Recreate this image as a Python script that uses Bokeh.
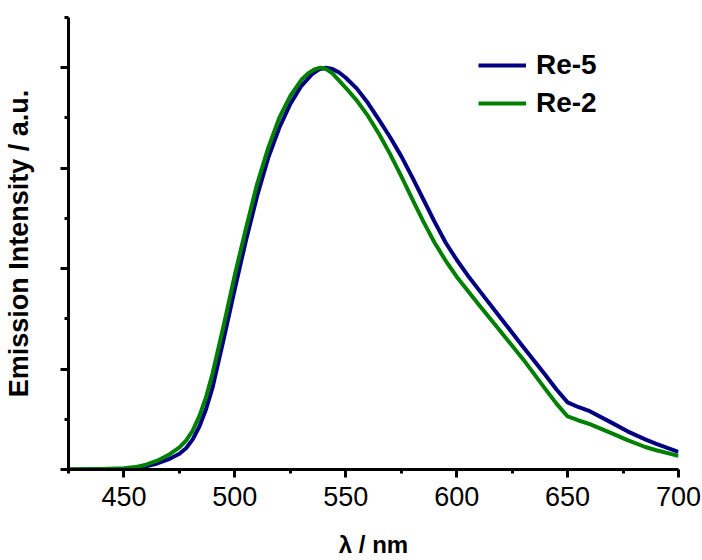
from bokeh.plotting import figure
from bokeh.models import Range1d, FixedTicker, Legend, LegendItem
from bokeh.embed import file_html
from bokeh.resources import INLINE

# ---- data ----
wl_re5 = [425, 440, 450, 455, 460, 465, 470, 475, 478, 481, 484, 487, 490, 495, 500, 505,
          510, 515, 520, 525, 530, 535, 538, 541, 544, 547, 550, 555, 560, 565, 570, 575,
          580, 585, 590, 595, 600, 605, 610, 620, 630, 640, 645, 650, 655, 660, 670, 677,
          685, 690, 700]
int_re5 = [0.0, 0.0008, 0.002, 0.004, 0.008, 0.015, 0.025, 0.039, 0.053, 0.075, 0.107, 0.15,
           0.205, 0.325, 0.45, 0.57, 0.68, 0.775, 0.85, 0.91, 0.955, 0.985, 0.996, 1.0,
           0.997, 0.988, 0.975, 0.948, 0.912, 0.87, 0.827, 0.78, 0.727, 0.672, 0.617, 0.565,
           0.522, 0.483, 0.447, 0.376, 0.305, 0.235, 0.199, 0.167, 0.155, 0.145, 0.116,
           0.095, 0.075, 0.064, 0.044]

wl_re2 = [425, 440, 450, 455, 460, 465, 470, 475, 478, 481, 484, 487, 490, 495, 500, 505,
          510, 515, 520, 525, 530, 533, 536, 538.5, 541, 544, 547, 550, 555, 560, 565, 570,
          575, 580, 585, 590, 595, 600, 605, 610, 620, 630, 640, 645, 650, 655, 660, 670,
          677, 685, 690, 700]
int_re2 = [0.0, 0.001, 0.003, 0.006, 0.012, 0.022, 0.036, 0.055, 0.072, 0.097, 0.133, 0.18,
           0.24, 0.36, 0.485, 0.60, 0.71, 0.80, 0.875, 0.93, 0.97, 0.986, 0.996, 1.0, 0.997,
           0.986, 0.968, 0.95, 0.918, 0.88, 0.835, 0.785, 0.73, 0.673, 0.617, 0.565, 0.52,
           0.48, 0.445, 0.41, 0.342, 0.274, 0.20, 0.164, 0.132, 0.122, 0.113, 0.09, 0.073,
           0.056, 0.048, 0.034]

series_names = ["Re-5", "Re-2"]
series_colors = ["#000080", "#008000"]

x_major = [450, 500, 550, 600, 650, 700]
x_minor = [425, 475, 525, 575, 625, 675]
y_major = [0, 0.25, 0.5, 0.75, 1.0]
y_minor = [0.125, 0.375, 0.625, 0.875, 1.125]

FONT = "Liberation Sans"

p = figure(width=702, height=560, output_backend="svg", toolbar_location=None,
           x_range=Range1d(425, 700), y_range=Range1d(0, 1.125),
           min_border_left=65, min_border_right=24, min_border_top=17, min_border_bottom=87)
p.outline_line_color = None
p.xgrid.visible = False
p.ygrid.visible = False

r1 = p.line(wl_re5, int_re5, line_color=series_colors[0], line_width=4, line_join="round")
r2 = p.line(wl_re2, int_re2, line_color=series_colors[1], line_width=4, line_join="round")

for ax in (p.xaxis[0], p.yaxis[0]):
    ax.axis_line_width = 3
    ax.axis_line_color = "black"
    ax.major_tick_line_width = 3
    ax.minor_tick_line_width = 3
    ax.major_tick_line_color = "black"
    ax.minor_tick_line_color = "black"
    ax.major_tick_out = 8
    ax.major_tick_in = 0
    ax.minor_tick_out = 4
    ax.minor_tick_in = 0
    ax.axis_label_text_font = FONT
    ax.axis_label_text_font_style = "bold"
    ax.axis_label_text_color = "black"
    ax.major_label_text_font = FONT

p.xaxis.ticker = FixedTicker(ticks=x_major, minor_ticks=x_minor)
p.yaxis.ticker = FixedTicker(ticks=y_major, minor_ticks=y_minor)

p.xaxis.major_label_text_font_size = "27px"
p.xaxis.major_label_text_color = "black"
p.xaxis.major_label_standoff = 9
p.xaxis.axis_label = "λ / nm"
p.xaxis.axis_label_text_font_size = "24px"
p.xaxis.axis_label_standoff = 22

# y tick labels are not shown in the reference
p.yaxis.major_label_text_font_size = "1px"
p.yaxis.major_label_text_color = None
p.yaxis.major_label_standoff = 0
p.yaxis.axis_label = "Emission Intensity / a.u."
p.yaxis.axis_label_text_font_size = "27px"
p.yaxis.axis_label_standoff = 27

legend = Legend(items=[LegendItem(label=series_names[0], renderers=[r1]),
                       LegendItem(label=series_names[1], renderers=[r2])],
                location=(410, 350))
legend.border_line_alpha = 0
legend.background_fill_alpha = 0
legend.padding = 0
legend.margin = 0
legend.spacing = 6
legend.glyph_width = 48
legend.glyph_height = 20
legend.label_standoff = 10
legend.label_text_font = FONT
legend.label_text_font_size = "28px"
legend.label_text_font_style = "bold"
legend.label_text_color = "black"
p.add_layout(legend)

open("out.html", "w").write(file_html(p, INLINE))
